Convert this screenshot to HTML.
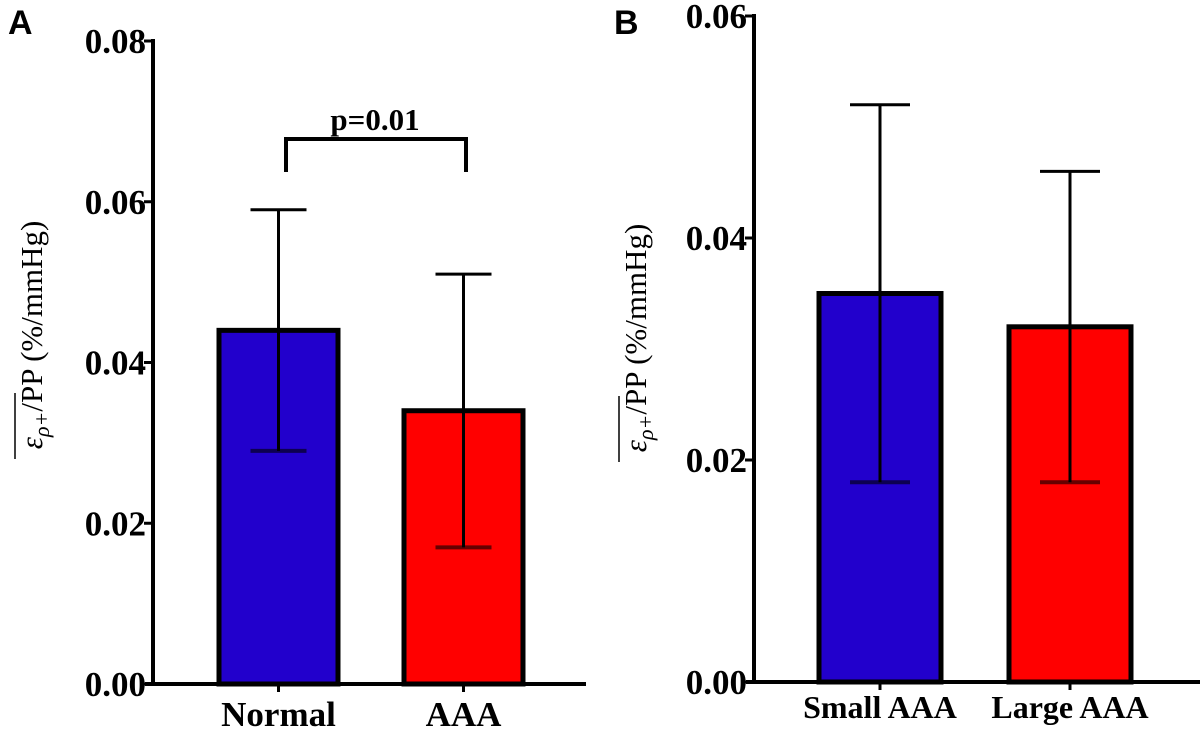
<!DOCTYPE html>
<html><head><meta charset="utf-8"><style>
html,body{margin:0;padding:0;background:#fff;}
svg{display:block;}
text{font-family:"Liberation Serif",serif;font-weight:bold;fill:#000;}
</style></head><body>
<svg id="chart" width="1200" height="732" viewBox="0 0 1200 732"></svg>
<script>
const catsA=["Normal","AAA"];
const meansA=[0.044,0.034];
const lowA=[0.029,0.017];
const highA=[0.059,0.051];
const ticksA=[0,0.02,0.04,0.06,0.08];
const tickLabelsA=["0.00","0.02","0.04","0.06","0.08"];
const catsB=["Small AAA","Large AAA"];
const meansB=[0.035,0.032];
const lowB=[0.018,0.018];
const highB=[0.052,0.046];
const ticksB=[0,0.02,0.04,0.06];
const tickLabelsB=["0.00","0.02","0.04","0.06"];
const colors=["#2200cc","#ff0000"];
const NS="http://www.w3.org/2000/svg";
const svg=document.getElementById('chart');
function mk(tag,attrs,parent){const e=document.createElementNS(NS,tag);for(const k in attrs)e.setAttribute(k,attrs[k]);(parent||svg).appendChild(e);return e;}

function panel(cfg){
  const g=mk('g',{});
  
  
  const y=v=>cfg.y0-(v/cfg.max)*(cfg.y0-cfg.yTop);
  cfg.cats.forEach((c,i)=>{
    const b=mk('rect',{x:cfg.barX[i],y:y(cfg.means[i]),width:cfg.barW,height:cfg.y0-y(cfg.means[i]),fill:colors[i],stroke:'#000','stroke-width':5},g);
    
    
    const cx=cfg.barX[i]+cfg.barW/2;
    const e=mk('g',{stroke:'#000','stroke-width':3},g);
    
    
    mk('line',{x1:cx,x2:cx,y1:y(cfg.high[i]),y2:y(cfg.low[i])},e);
    mk('line',{x1:cx-cfg.cap,x2:cx+cfg.cap,y1:y(cfg.high[i]),y2:y(cfg.high[i])},e);
    mk('line',{x1:cx-cfg.cap,x2:cx+cfg.cap,y1:y(cfg.low[i]),y2:y(cfg.low[i]),'stroke-opacity':0.6,'stroke-width':4},e);
    mk('line',{x1:cx,x2:cx,y1:cfg.y0,y2:cfg.y0+8,stroke:'#000','stroke-width':3},g);
    const t=mk('text',{x:cx,y:cfg.xBase,'text-anchor':'middle','font-size':cfg.xfs},g);
    t.textContent=c;
    
    
  });
  const ya=mk('line',{x1:cfg.ax,x2:cfg.ax,y1:cfg.yTop-2,y2:cfg.y0+2,stroke:'#000','stroke-width':4},g);
  
  
  const xa=mk('line',{x1:cfg.ax-8,x2:cfg.xEnd,y1:cfg.y0,y2:cfg.y0,stroke:'#000','stroke-width':4},g);
  
  
  cfg.ticks.forEach((v,i)=>{
    mk('line',{x1:cfg.ax-9,x2:cfg.ax,y1:y(v),y2:y(v),stroke:'#000','stroke-width':3},g);
    const t=mk('text',{x:cfg.ax-7,y:y(v)+12,'text-anchor':'end','font-size':35},g);
    t.textContent=cfg.tickLabels[i];
    
    
  });
  const tt=mk('text',{transform:`translate(${cfg.titleX},${cfg.titleY}) rotate(-90)`,'text-anchor':'middle','font-size':31,style:'font-weight:normal'},g);
  
  
  tt.innerHTML='<tspan font-style="italic">ε</tspan><tspan font-style="italic" font-size="22" dy="7">ρ+</tspan><tspan dy="-7">/PP (%/mmHg)</tspan>';
  const ol=mk('line',{x1:cfg.titleX-27,x2:cfg.titleX-27,y1:cfg.titleY+58,y2:cfg.titleY+124,stroke:'#000','stroke-width':1.5},g);
  
  
  const L=mk('text',{x:cfg.letterX,y:34,'font-size':34,style:'font-family:"Liberation Sans",sans-serif'},g);
  L.textContent=cfg.id;
  
  
  return {g,y};
}

const A=panel({id:'A',cats:catsA,means:meansA,low:lowA,high:highA,ticks:ticksA,tickLabels:tickLabelsA,max:0.08,y0:684,yTop:41,ax:153,xEnd:586,barX:[219,404],barW:119,cap:28,xfs:35,xBase:726,titleX:42,titleY:335,letterX:8});
const B=panel({id:'B',cats:catsB,means:meansB,low:lowB,high:highB,ticks:ticksB,tickLabels:tickLabelsB,max:0.06,y0:682,yTop:16,ax:754,xEnd:1200,barX:[819,1009],barW:122,cap:30,xfs:32,xBase:718,titleX:646,titleY:338,letterX:614});
const br=mk('path',{d:`M286 172 V139 H466 V172`,fill:'none',stroke:'#000','stroke-width':4},A.g);


const p=mk('text',{x:375,y:130,'text-anchor':'middle','font-size':31},A.g);
p.textContent='p=0.01';


</script>
</body></html>
